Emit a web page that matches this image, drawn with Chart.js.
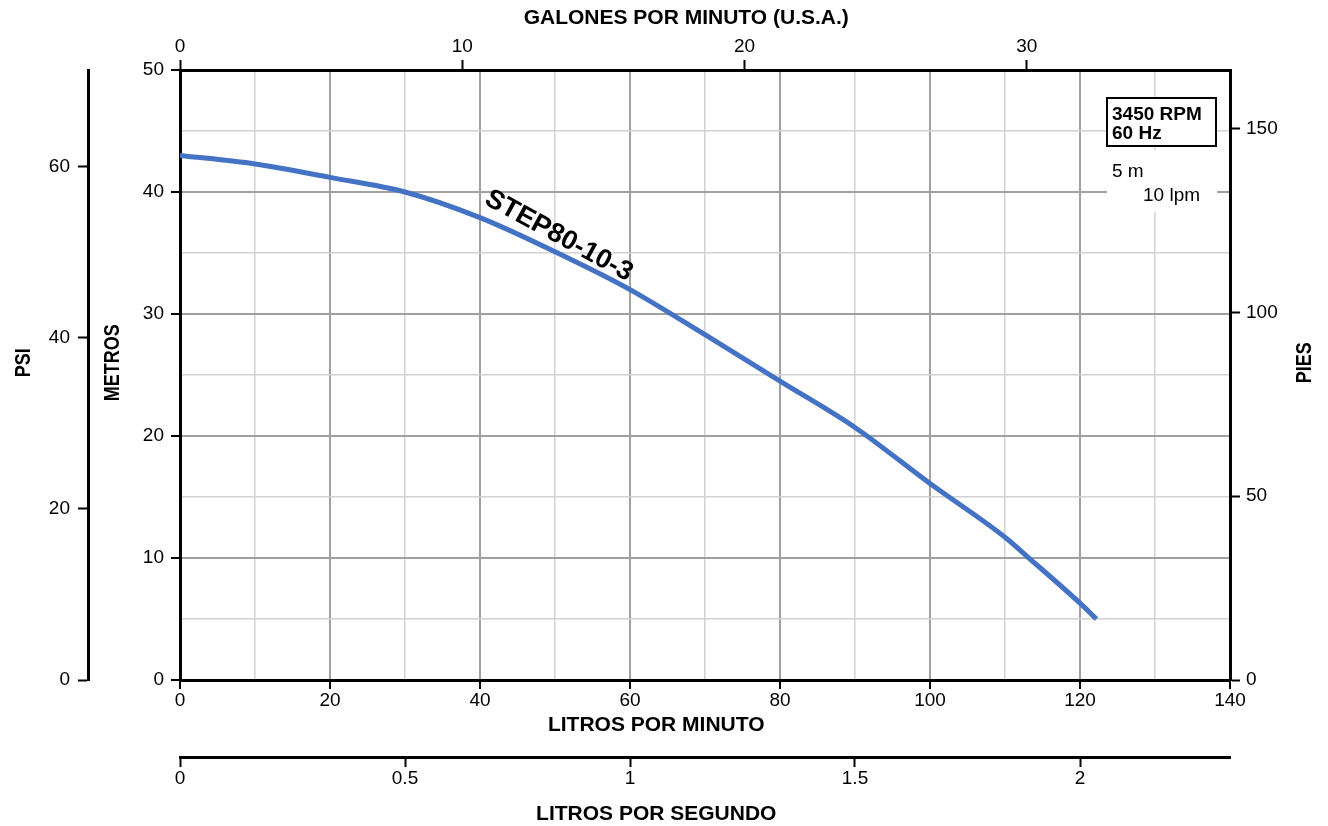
<!DOCTYPE html>
<html>
<head>
<meta charset="utf-8">
<title>STEP80-10-3</title>
<script src="https://cdn.jsdelivr.net/npm/chart.js@4.4.1/dist/chart.umd.min.js"></script>
<style>
  html, body { margin: 0; padding: 0; background: #fff; }
  #wrap { width: 1328px; height: 826px; }
</style>
</head>
<body>
<div id="wrap"><canvas id="curve" width="1328" height="826"></canvas></div>
<script>
// Pump curve: flow (litros por minuto) vs head (metros)
const flowLpm = [0, 10, 20, 30, 40, 50, 60, 70, 80, 90, 100, 110, 113, 120, 122.2];
const headM = [43.0, 42.3, 41.2, 40.0, 37.9, 35.1, 32.0, 28.3, 24.5, 20.7, 16.1, 11.7, 10.1, 6.3, 5.0];

// Tick values of every axis
const lpmTicks = [0, 10, 20, 30, 40, 50, 60, 70, 80, 90, 100, 110, 120, 130, 140];
const metrosTicks = [0, 5, 10, 15, 20, 25, 30, 35, 40, 45, 50];
const galTicks = [0, 10, 20, 30];
const psiTicks = [0, 20, 40, 60];
const piesTicks = [0, 50, 100, 150];
const lpsTicks = [0, 0.5, 1, 1.5, 2];

// Axis ranges; the secondary axes are the same range in other units
const lpmMax = 140, metrosMax = 50;
const galMax = 37.2, psiMax = 71.3, piesMax = 166, lpsMax = lpmMax / 60;

const tickFont = { family: '"Liberation Sans", Arial, sans-serif', size: 19 };

function fixedTicks(list) {
  return scale => { scale.ticks = list.map(v => ({ value: v })); };
}
function boxSize(px) {
  return scale => {
    if (scale.isHorizontal()) scale.height = px;
    else scale.width = px;
  };
}

// extra axes with only tick marks, no grid on the plot
function sideAxis(position, max, list, px, pad, weight) {
  return {
    type: 'linear', position: position, min: 0, max: max, weight: weight,
    afterBuildTicks: fixedTicks(list),
    afterFit: boxSize(px),
    border: { color: '#000', width: 3 },
    grid: { drawOnChartArea: false, tickLength: 10, tickWidth: 2, tickColor: '#000' },
    ticks: { font: tickFont, color: '#000', padding: pad, autoSkip: false, maxRotation: 0,
             callback: v => String(v) }
  };
}

const isMajor = (c, step) => c.tick && c.tick.value % step === 0;

// titles, rpm box and curve name
const extras = {
  id: 'extras',
  afterDraw(chart) {
    const { ctx, chartArea: ca, scales: s } = chart;
    const bold = px => 'bold ' + px + 'px "Liberation Sans", Arial, sans-serif';
    ctx.save();
    ctx.fillStyle = '#000';
    ctx.textAlign = 'center';
    ctx.textBaseline = 'middle';

    ctx.font = bold(21);
    ctx.fillText('GALONES POR MINUTO (U.S.A.)', s.x.getPixelForValue(67.5), s.xg.top + 18);
    ctx.fillText('LITROS POR MINUTO', s.x.getPixelForValue(63.5), s.x.top + 45);
    ctx.fillText('LITROS POR SEGUNDO', s.x.getPixelForValue(63.5), s.lps.top + 57);

    // vertical titles, a little taller across than the plain font
    const midY = s.y.getPixelForValue(26);
    ctx.font = bold(18);
    [['PSI', s.psi.left + 24], ['METROS', s.y.left + 25], ['PIES', s.pies.right - 23]].forEach(([t, px]) => {
      ctx.save();
      ctx.translate(px, midY);
      ctx.rotate(-Math.PI / 2);
      ctx.scale(1, 1.2);
      ctx.fillText(t, 0, 0);
      ctx.restore();
    });

    // 3450 RPM box
    const bx = ca.right - 123, by = ca.top + 28;
    ctx.fillStyle = '#fff';
    ctx.fillRect(bx, by, 109, 48);
    ctx.strokeStyle = '#000';
    ctx.lineWidth = 2;
    ctx.strokeRect(bx, by, 109, 48);
    ctx.fillStyle = '#000';
    ctx.textAlign = 'left';
    ctx.textBaseline = 'alphabetic';
    ctx.font = bold(19);
    ctx.fillText('3450 RPM', bx + 5, by + 22);
    ctx.fillText('60 Hz', bx + 5, by + 41);

    // grid key
    ctx.fillStyle = '#fff';
    ctx.fillRect(bx, by + 52, 110, 62);
    ctx.fillStyle = '#000';
    ctx.font = '19px "Liberation Sans", Arial, sans-serif';
    ctx.fillText('5 m', bx + 5, by + 79);
    ctx.fillText('10 lpm', bx + 36, by + 103);

    // curve name
    ctx.save();
    ctx.translate(s.x.getPixelForValue(50.5), s.y.getPixelForValue(36.4));
    ctx.rotate(28.5 * Math.PI / 180);
    ctx.textAlign = 'center';
    ctx.textBaseline = 'middle';
    ctx.font = bold(27);
    ctx.fillText('STEP80-10-3', 0, 0);
    ctx.restore();

    ctx.restore();
  }
};

new Chart(document.getElementById('curve'), {
  type: 'line',
  data: {
    datasets: [{
      data: flowLpm.map((x, i) => ({ x: x, y: headM[i] })),
      borderColor: '#4472c4',
      borderWidth: 5,
      pointRadius: 0,
      cubicInterpolationMode: 'monotone',
      fill: false,
      xAxisID: 'x',
      yAxisID: 'y'
    }]
  },
  options: {
    responsive: false,
    animation: false,
    events: [],
    layout: { padding: 0 },
    plugins: { legend: { display: false }, tooltip: { enabled: false } },
    scales: {
      x: {
        type: 'linear', position: 'bottom', min: 0, max: lpmMax, weight: 0,
        afterBuildTicks: fixedTicks(lpmTicks),
        afterFit: boxSize(77),
        border: { color: '#000', width: 3 },
        grid: {
          color: c => isMajor(c, 20) ? '#a0a0a0' : '#d2d2d2',
          lineWidth: c => isMajor(c, 20) ? 2 : 1.5,
          tickLength: 9, tickWidth: 2,
          tickColor: c => isMajor(c, 20) ? '#000' : 'rgba(0,0,0,0)'
        },
        ticks: { font: tickFont, color: '#000', padding: 0, autoSkip: false, maxRotation: 0,
                 callback: v => v % 20 === 0 ? String(v) : '' }
      },
      y: {
        type: 'linear', position: 'left', min: 0, max: metrosMax, weight: 0,
        afterBuildTicks: fixedTicks(metrosTicks),
        afterFit: boxSize(92),
        border: { color: '#000', width: 3 },
        grid: {
          color: c => isMajor(c, 10) ? '#a0a0a0' : '#d2d2d2',
          lineWidth: c => isMajor(c, 10) ? 2 : 1.5,
          tickLength: 9, tickWidth: 2,
          tickColor: c => isMajor(c, 10) ? '#000' : 'rgba(0,0,0,0)'
        },
        ticks: { font: tickFont, color: '#000', padding: 7, autoSkip: false,
                 callback: v => v % 10 === 0 ? String(v) : '' }
      },
      xg: sideAxis('top', galMax, galTicks, 70, 2, 0),
      psi: sideAxis('left', psiMax, psiTicks, 88, 8, 1),
      pies: sideAxis('right', piesMax, piesTicks, 98, 6, 0),
      lps: sideAxis('bottom', lpsMax, lpsTicks, 69, 0, 1)
    }
  },
  plugins: [extras]
});
</script>
</body>
</html>
